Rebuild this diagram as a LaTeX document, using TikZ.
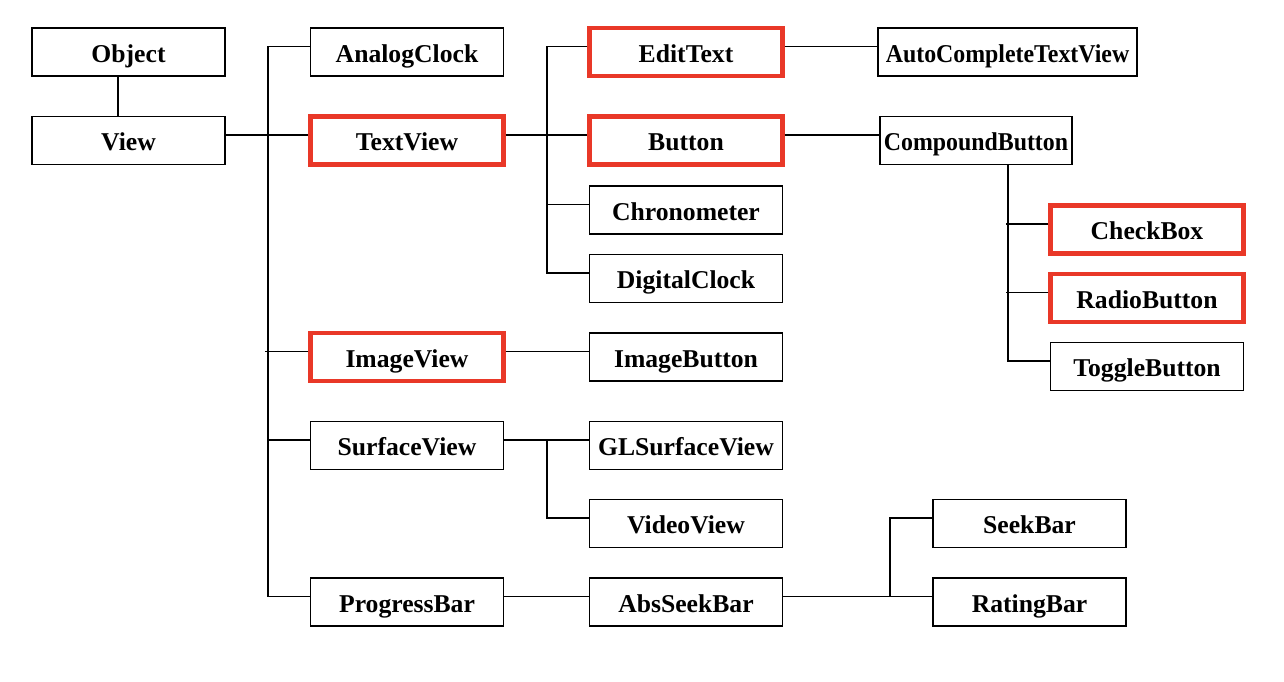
\documentclass[tikz,border=0pt]{standalone}
\usepackage{xcolor}
\usepackage{graphicx}
\usepackage{fontspec}
\setmainfont{Liberation Serif}
\usepackage{tikz}
\definecolor{markred}{RGB}{233,56,40}

\begin{document}
\begin{tikzpicture}[
    x=0.02cm, y=-0.02cm,
    widget/.style={rectangle, draw, line width=1pt, minimum width=3.86cm, minimum height=0.96cm, inner sep=2pt, text height=11.4pt, text depth=0pt, font=\fontsize{14.6}{17}\selectfont\bfseries},
    marked/.style={widget, draw=markred, line width=2.4pt},
    link/.style={line width=1pt}
]
\useasboundingbox (0,0) rectangle (1284,682);

% first two columns
\node[widget] (object) at (128.5,52) {Object};
\node[widget] (view) at (128.5,140.5) {View};
\node[widget] (analogclock) at (407,52) {AnalogClock};
\node[marked] (textview) at (407,140.5) {TextView};
\node[marked] (imageview) at (407,357) {ImageView};
\node[widget] (surfaceview) at (407,445.5) {SurfaceView};
\node[widget] (progressbar) at (407,602) {ProgressBar};

% third column
\node[marked] (edittext) at (686,52) {EditText};
\node[marked] (button) at (686,140.5) {Button};
\node[widget] (chronometer) at (686,210) {Chronometer};
\node[widget] (digitalclock) at (686,278.5) {DigitalClock};
\node[widget] (imagebutton) at (686,357) {ImageButton};
\node[widget] (glsurfaceview) at (686,445.5) {GLSurfaceView};
\node[widget] (videoview) at (686,523.5) {VideoView};
\node[widget] (abrseekbar) at (686,602) {AbsSeekBar};

% right side
\node[widget, minimum width=5.18cm] (autocomplete) at (1007.5,52) {\scalebox{0.93}[1]{AutoCompleteTextView}};
\node[widget, minimum width=3.84cm] (compoundbutton) at (976,140.5) {\scalebox{0.93}[1]{CompoundButton}};
\node[marked] (checkbox) at (1147,229.5) {CheckBox};
\node[marked] (radiobutton) at (1147,298) {RadioButton};
\node[widget] (togglebutton) at (1147,366.5) {ToggleButton};
\node[widget] (seekbar) at (1029.5,523.5) {SeekBar};
\node[widget] (ratingbar) at (1029.5,602) {RatingBar};

\coordinate (viewbus) at (268,300);
\coordinate (textbus) at (547,150);
\coordinate (surfacebus) at (547,440);
\coordinate (seekbus) at (890,596.5);

% View and its children
\draw[link] ([xshift=-0.21cm]object.south) -- ([xshift=-0.21cm]view.north);
\draw[link] ([yshift=.11cm]analogclock.west) -| (viewbus) |- ([yshift=.11cm]progressbar.west);
\draw[link] ([yshift=.11cm]view.east) -- ([yshift=.11cm]textview.west);
\draw[link] ([yshift=.11cm]imageview.west) -- +(-43,0);
\draw[link] ([yshift=.11cm]surfaceview.west) -- +(-43,0);

% TextView children
\draw[link] ([yshift=.11cm]edittext.west) -| (textbus) |- ([yshift=.11cm]digitalclock.west);
\draw[link] ([yshift=.11cm]textview.east) -- ([yshift=.11cm]button.west);
\draw[link] ([yshift=.11cm]chronometer.west) -- +(-42,0);
\draw[link] ([yshift=.11cm]edittext.east) -- ([yshift=.11cm]autocomplete.west);
\draw[link] ([yshift=.11cm]button.east) -- ([yshift=.11cm]compoundbutton.west);

% CompoundButton children
\draw[link] ([xshift=0.64cm]compoundbutton.south) |- ([yshift=.11cm]togglebutton.west);
\draw[link] ([yshift=.11cm]checkbox.west) -- +(-42,0);
\draw[link] ([yshift=.11cm]radiobutton.west) -- +(-42,0);

% the rest
\draw[link] ([yshift=.11cm]imageview.east) -- ([yshift=.11cm]imagebutton.west);
\draw[link] ([yshift=.11cm]surfaceview.east) -- ([yshift=.11cm]glsurfaceview.west);
\draw[link] ([yshift=.11cm]videoview.west) -| (surfacebus);
\draw[link] ([yshift=.11cm]progressbar.east) -- ([yshift=.11cm]abrseekbar.west);
\draw[link] ([yshift=.11cm]abrseekbar.east) -- ([yshift=.11cm]ratingbar.west);
\draw[link] ([yshift=.11cm]seekbar.west) -| (seekbus);

\end{tikzpicture}
\end{document}
